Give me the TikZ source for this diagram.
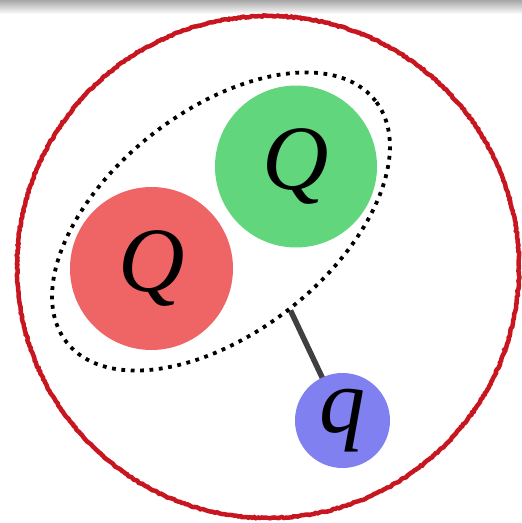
\documentclass[tikz,border=0pt]{standalone}
\usepackage{fontspec}
\newfontfamily\chargefont{Liberation Serif}
\usetikzlibrary{shapes.geometric, backgrounds, decorations.pathmorphing}
\definecolor{chargered}{RGB}{239,101,101}
\definecolor{chargegreen}{RGB}{98,214,124}
\definecolor{probeblue}{RGB}{128,128,240}
\definecolor{shellred}{RGB}{200,22,32}
\definecolor{stickgray}{RGB}{64,64,64}

\begin{document}
\begin{tikzpicture}[x=1pt, y=1pt,
        ball/.style={circle, inner sep=0pt, text=black,
                     font=\chargefont\itshape\fontsize{92}{92}\selectfont},
        pairbox/.style={ellipse, draw=black, line width=3.8pt,
                        dash pattern=on 3.8pt off 5.6pt, inner sep=0pt,
                        minimum width=392pt, minimum height=222pt}]
      \useasboundingbox (0,0) rectangle (522,-523);
      \shade[top color=gray!70, bottom color=white] (0,0) rectangle (522,-14);
      \draw[shellred, line width=4.5pt, decorate,
            decoration={random steps, segment length=2pt, amplitude=0.6pt}]
            (268,-267) circle (251);
      \node[ball, fill=chargered, minimum size=163pt]   (Qa)   at (151.5,-268.5) {Q};
      \node[ball, fill=chargegreen, minimum size=162pt] (Qb)   at (296,-166.5)   {Q};
      \node[pairbox, rotate=38]                         (pair) at (221,-221.5)   {};
      \node[ball, fill=probeblue, minimum size=95pt]    (q)    at (342.5,-420.5) {q};
      \begin{scope}[on background layer]
        \draw[stickgray, line width=5.5pt] (pair.south) -- (q.center);
      \end{scope}
    \end{tikzpicture}
\end{document}
